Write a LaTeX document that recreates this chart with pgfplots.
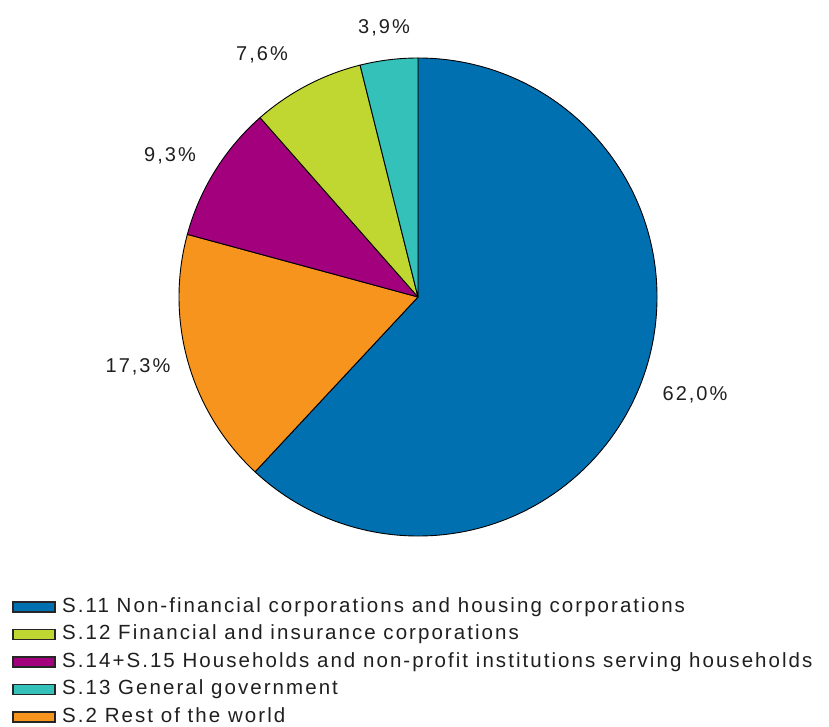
\documentclass[border=0pt]{standalone}
\usepackage{pgfplots}
\pgfplotsset{compat=1.18}
\usepackage{fontspec}
\setmainfont{Liberation Sans}
\newfontfamily\trackfont[LetterSpace=10]{Liberation Sans}
\definecolor{cSa}{RGB}{0,112,176}
\definecolor{cSb}{RGB}{191,215,48}
\definecolor{cSc}{RGB}{163,0,125}
\definecolor{cSd}{RGB}{51,193,185}
\definecolor{cSe}{RGB}{247,148,30}
\gdef\curang{90}
\newcommand\slice[2]{%
  \pgfmathsetmacro\endang{\curang-#1/100.1*360}%
  \edef\temp{\noexpand\filldraw[fill=#2, draw=black, line width=0.9pt, line join=round] (axis cs:0,0) -- (axis cs:{cos(\curang)},{sin(\curang)}) arc[start angle=\curang, end angle=\endang, radius=239pt] -- cycle;}%
  \temp
  \global\let\curang\endang
}
\begin{document}
\begin{tikzpicture}[x=1pt,y=1pt]
\useasboundingbox (0,0) rectangle (829,-727);
\begin{axis}[
  at={(418pt,-297pt)}, anchor=center,
  scale only axis, width=478pt, height=478pt,
  xmin=-1, xmax=1, ymin=-1, ymax=1,
  enlargelimits=false, hide axis, clip=false]
\slice{62.0}{cSa}
\slice{17.3}{cSe}
\slice{9.3}{cSc}
\slice{7.6}{cSb}
\slice{3.9}{cSd}
\end{axis}
\begin{scope}[every node/.style={font=\trackfont\fontsize{20}{24}\selectfont, text=black!88, inner sep=0pt}]
\node at (384,-28) {3,9\%};
\node at (262,-55) {7,6\%};
\node at (170,-156) {9,3\%};
\node at (138,-367) {17,3\%};
\node at (695,-395) {62,0\%};
\end{scope}
\begin{scope}[every node/.style={font=\trackfont\fontsize{20.5}{24}\selectfont, text=black!88, inner sep=0pt, anchor=base west}]
\foreach \c/\t [count=\i from 0] in {cSa/S.11 Non-financial corporations and housing corporations, cSb/S.12 Financial and insurance corporations, cSc/S.14+S.15 Households and non-profit institutions serving households, cSd/S.13 General government, cSe/S.2 Rest of the world}{
  \pgfmathsetmacro\yb{-(612+27.5*\i)}
  \filldraw[fill=\c, draw=black!85, line width=1.2pt] (13,\yb) rectangle (55,\yb+10);
  \node at (62,\yb) {\t};
}
\end{scope}
\end{tikzpicture}
\end{document}
